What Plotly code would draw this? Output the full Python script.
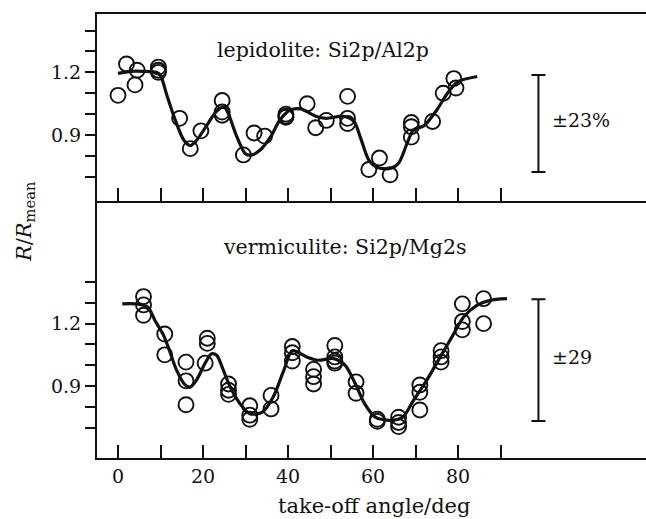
import plotly.graph_objects as go

# ---------------- data ----------------
# lepidolite: Si2p/Al2p (upper panel)
lep_pts_x = [0, 2, 4.5, 4, 9.5, 9.5, 9.5, 14.5, 17, 19.5, 24.5, 24.5, 24.5, 29.5, 32, 34.5,
             39.5, 39.5, 39.5, 44.5, 46.5, 49, 54, 54, 54, 59, 61.5, 64, 69, 69, 69, 74,
             76.5, 79, 79.5]
lep_pts_y = [1.09, 1.24, 1.21, 1.14, 1.225, 1.21, 1.20, 0.98, 0.835, 0.92, 1.065, 1.01, 0.995,
             0.805, 0.91, 0.895, 1.0, 0.99, 0.985, 1.05, 0.935, 0.97, 1.085, 0.98, 0.955,
             0.735, 0.79, 0.71, 0.96, 0.94, 0.89, 0.965, 1.10, 1.17, 1.125]
lep_fit_x = [0, 3, 6, 9, 10, 11.5, 13.5, 15.5, 17, 18.5, 21, 23, 25, 26, 28, 30, 31.5, 33.5,
             36, 38, 40.5, 43, 46.5, 49, 53, 55.5, 57, 59, 61, 64, 66, 68, 69.5, 72, 75,
             77.5, 80, 84.5]
lep_fit_y = [1.195, 1.205, 1.205, 1.2, 1.185, 1.09, 0.97, 0.875, 0.85, 0.875, 0.95, 1.01,
             1.035, 1.0, 0.89, 0.81, 0.805, 0.83, 0.895, 0.97, 1.02, 1.025, 0.99, 0.98, 0.99,
             0.965, 0.89, 0.78, 0.745, 0.74, 0.765, 0.86, 0.925, 0.945, 1.02, 1.1, 1.155, 1.18]

# vermiculite: Si2p/Mg2s (lower panel)
ver_pts_x = [6, 6, 6, 11, 11, 16, 16, 16, 21, 21, 20.5, 26, 26, 26, 31, 31, 31, 36, 36,
             41, 41, 41, 46, 46, 46, 51, 51, 51, 51, 56, 56, 61, 61, 66, 66, 66, 71, 71, 71,
             76, 76, 76, 81, 81, 81, 86, 86]
ver_pts_y = [1.33, 1.29, 1.24, 1.15, 1.05, 1.015, 0.925, 0.81, 1.13, 1.105, 1.01, 0.91, 0.88,
             0.86, 0.805, 0.76, 0.74, 0.855, 0.79, 1.09, 1.06, 1.02, 0.98, 0.945, 0.91, 1.095,
             1.04, 1.02, 1.01, 0.92, 0.865, 0.74, 0.73, 0.75, 0.725, 0.705, 0.905, 0.87, 0.785,
             1.07, 1.04, 1.015, 1.295, 1.21, 1.17, 1.32, 1.2]
ver_fit_x = [1, 4, 7, 8.7, 10.7, 12.2, 13.8, 15.8, 17, 18.5, 20.5, 22, 23.2, 24.8, 26.4, 28.7,
             31, 34, 36.5, 39, 41, 44.4, 47, 50.7, 53.4, 55.8, 58, 60.5, 64, 67, 69.5, 72.6,
             75.8, 79, 81.3, 84.4, 87.5, 91.5]
ver_fit_y = [1.295, 1.295, 1.28, 1.215, 1.145, 1.065, 0.975, 0.905, 0.895, 0.93, 1.01, 1.055,
             1.048, 0.975, 0.895, 0.815, 0.767, 0.775, 0.847, 0.975, 1.07, 1.04, 1.024, 1.032,
             1.0, 0.912, 0.815, 0.751, 0.735, 0.751, 0.831, 0.927, 1.04, 1.152, 1.232, 1.288,
             1.312, 1.32]

# scale bars (position, centre, half-length)
lep_bar = dict(x=98.9, y=0.955, half=0.232, label="±23%")
ver_bar = dict(x=98.9, y=1.0245, half=0.2925, label="±29")

x_major_ticks = [0, 20, 40, 60, 80]
x_minor_ticks = [10, 30, 50, 70, 90]
y_major_ticks = [0.9, 1.2]
y_minor_ticks = [0.7, 0.8, 1.0, 1.1, 1.3, 1.4]

FONT = "DejaVu Serif"
BLACK = "#111111"

fig = go.Figure()

def add_panel(px, py, fx, fy, bar, xa, ya):
    fig.add_trace(go.Scatter(x=fx, y=fy, mode="lines",
                             line=dict(color=BLACK, width=3.2, shape="spline", smoothing=0.8),
                             xaxis=xa, yaxis=ya, showlegend=False, hoverinfo="skip"))
    fig.add_trace(go.Scatter(x=px, y=py, mode="markers",
                             marker=dict(symbol="circle-open", size=15, color=BLACK,
                                         line=dict(width=1.9, color=BLACK)),
                             xaxis=xa, yaxis=ya, showlegend=False))
    fig.add_trace(go.Scatter(x=[bar["x"]], y=[bar["y"]], mode="markers",
                             marker=dict(size=1, color="rgba(0,0,0,0)"),
                             error_y=dict(type="data", array=[bar["half"]], width=7, thickness=2, color=BLACK),
                             xaxis=xa, yaxis=ya, showlegend=False, hoverinfo="skip"))

add_panel(lep_pts_x, lep_pts_y, lep_fit_x, lep_fit_y, lep_bar, "x2", "y2")
add_panel(ver_pts_x, ver_pts_y, ver_fit_x, ver_fit_y, ver_bar, "x", "y")

split = 0.5795
common_x = dict(range=[-4.94, 124.2], showgrid=False, zeroline=False, showline=True, linewidth=2,
                linecolor=BLACK, ticks="inside", ticklen=13, tickwidth=1.5, tickcolor=BLACK,
                tickmode="array", tickvals=x_major_ticks,
                minor=dict(tickmode="array", tickvals=x_minor_ticks, ticks="inside", ticklen=13,
                           tickwidth=1.5, tickcolor=BLACK, showgrid=False))
common_y = dict(showgrid=False, zeroline=False, showline=True, linewidth=2, linecolor=BLACK,
                ticks="outside", ticklen=10, tickwidth=1.5, tickcolor=BLACK,
                tickmode="array", tickvals=y_major_ticks, tickformat=".1f",
                minor=dict(tickmode="array", tickvals=y_minor_ticks, ticks="outside", ticklen=10,
                           tickwidth=1.5, tickcolor=BLACK, showgrid=False),
                tickfont=dict(family=FONT, size=19, color=BLACK))

def note(text, x, y, size, xanchor="center", **kw):
    return dict(text=text, xref="paper", yref="paper", x=x, y=y, xanchor=xanchor, yanchor="middle",
                showarrow=False, font=dict(family=FONT, size=size, color=BLACK), **kw)

fig.update_layout(
    width=646, height=519,
    margin=dict(l=97, r=0, t=14, b=61),
    paper_bgcolor="white", plot_bgcolor="white",
    font=dict(family=FONT, color=BLACK),
    xaxis=dict(**common_x, anchor="y", tickfont=dict(family=FONT, size=19, color=BLACK)),
    xaxis2=dict(**common_x, anchor="y2", matches="x", showticklabels=False, mirror=True),
    yaxis=dict(**common_y, domain=[0, split], range=[0.554, 1.791], anchor="x"),
    yaxis2=dict(**common_y, domain=[split, 1], range=[0.586, 1.479], anchor="x2"),
    annotations=[
        note("lepidolite: Si2p/Al2p", 0.4117, 0.919, 20.5),
        note("vermiculite: Si2p/Mg2s", 0.45, 0.475, 20.5),
        note(lep_bar["label"], 0.825, 0.761, 19, xanchor="left"),
        note(ver_bar["label"], 0.825, 0.2275, 19, xanchor="left"),
        note("take-off angle/deg", 0.5046, -0.108, 21),
        note("<i>R</i>/<i>R</i><sub>mean</sub>", -0.131, 0.5315, 21, textangle=-90),
    ],
)

fig.write_html("out.html")
